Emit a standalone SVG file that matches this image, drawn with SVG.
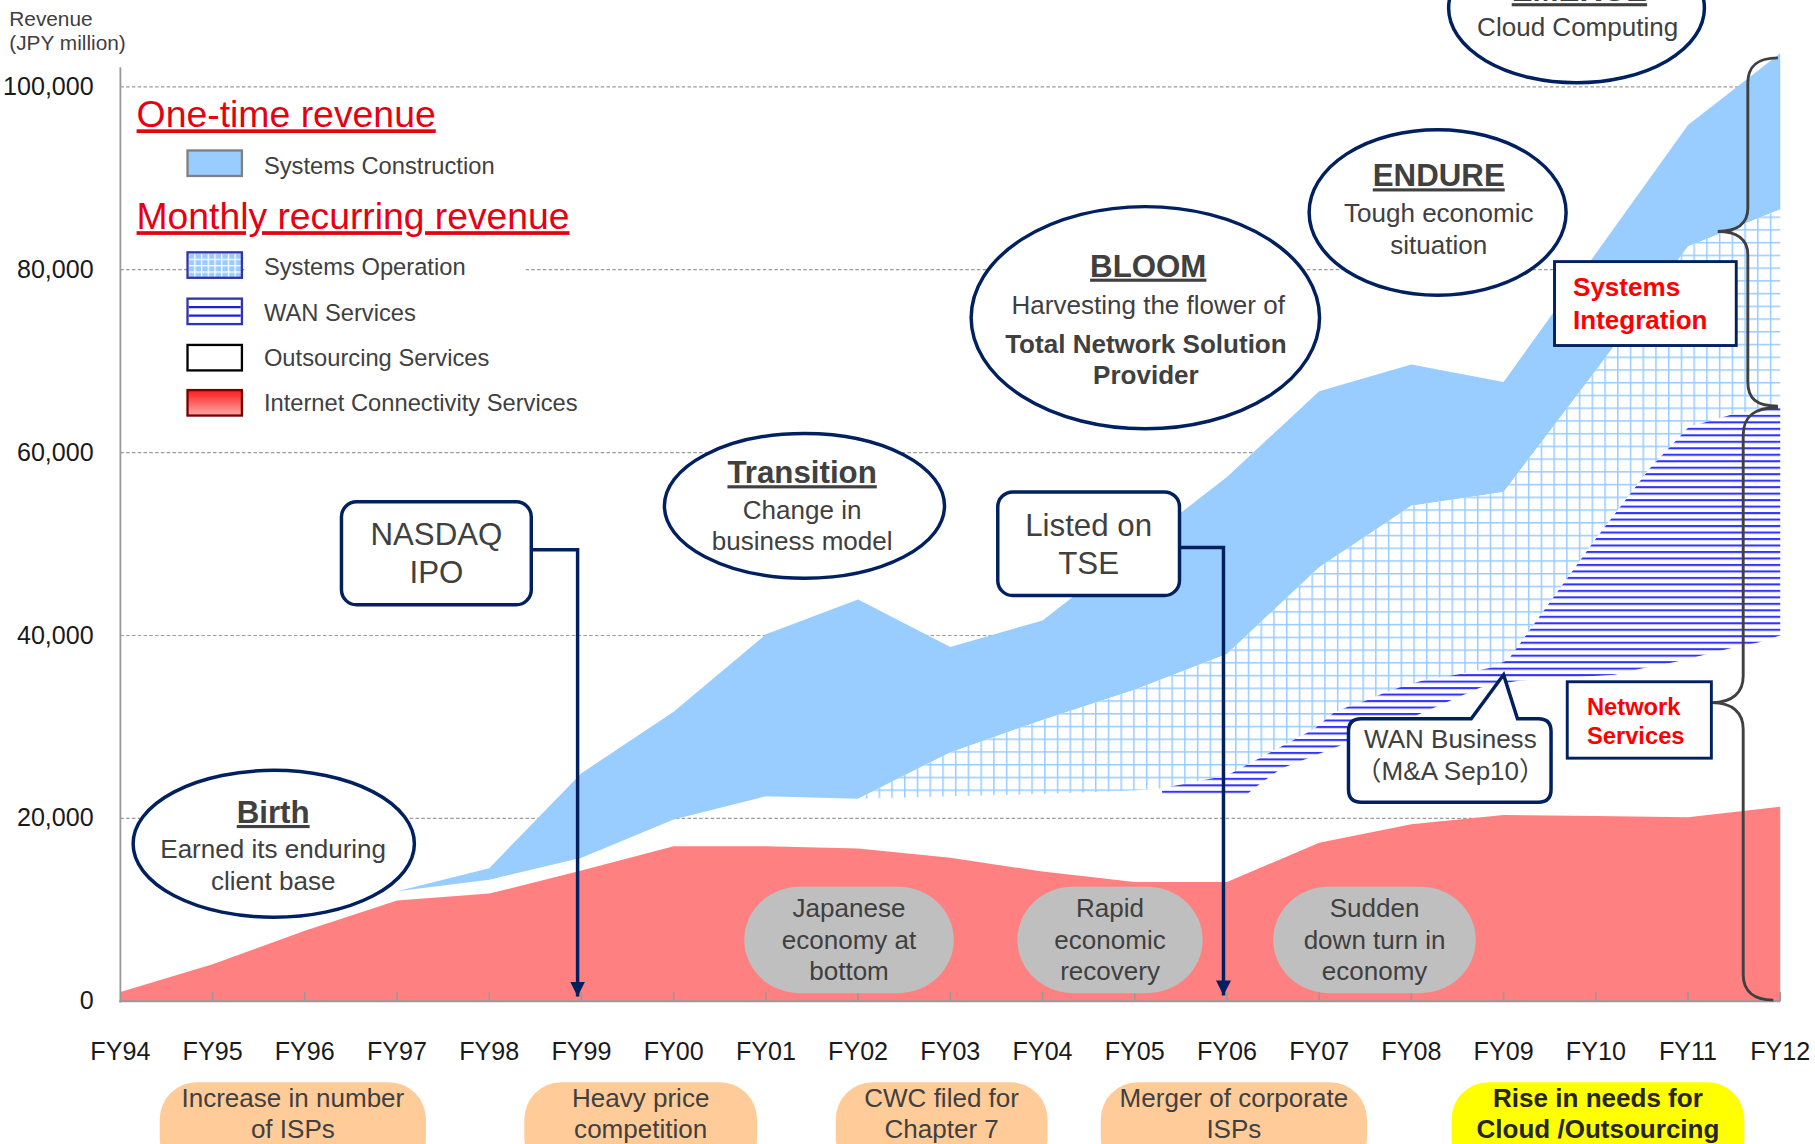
<svg xmlns="http://www.w3.org/2000/svg" width="1815" height="1144" viewBox="0 0 1815 1144">
<defs>
<style>
.t{font-family:"Liberation Sans",Arial,sans-serif;fill:#404040}
.ax{fill:#1a1a1a;font-size:21.7px}
.m{text-anchor:middle}
.e{text-anchor:end}
.b{font-weight:bold}
.u{text-decoration:underline}
.s22{font-size:22.5px}
.s27{font-size:27px}
.bub{fill:#fff;stroke:#002060;stroke-width:3}
.box{fill:#fff;stroke:#002060;stroke-width:3}
.gl{stroke:#9a9a9a;stroke-width:1;stroke-dasharray:3 2;fill:none}
.conn{fill:none;stroke:#002060;stroke-width:3}
.brace{fill:none;stroke:#404040;stroke-width:2.5}
.gray{fill:#bfbfbf}
.orange{fill:#ffcc99}
.red{fill:#ff0000}
</style>
<pattern id="opGrid" patternUnits="userSpaceOnUse" width="11" height="11">
<rect width="11" height="11" fill="#fff"/>
<rect x="0" y="0" width="1.3" height="11" fill="#99ccff"/>
<rect x="0" y="0" width="11" height="1.3" fill="#99ccff"/>
</pattern>
<pattern id="legGrid" patternUnits="userSpaceOnUse" width="5.8" height="5.5" x="162" y="218">
<rect width="5.8" height="5.5" fill="#99ccff"/>
<rect x="0" y="0" width="1.1" height="5.5" fill="#fff"/>
<rect x="0" y="0" width="5.8" height="1.1" fill="#fff"/>
</pattern>
<pattern id="wanLines" patternUnits="userSpaceOnUse" width="10" height="5.6">
<rect width="10" height="5.6" fill="#fff"/>
<rect x="0" y="0" width="10" height="1.8" fill="#3333ff"/>
</pattern>
<linearGradient id="redGrad" x1="0" y1="0" x2="0" y2="1">
<stop offset="0" stop-color="#ff1a1a"/>
<stop offset="1" stop-color="#ffaaaa"/>
</linearGradient>
<marker id="arr" viewBox="0 0 14 14" refX="14" refY="7" markerWidth="13" markerHeight="13" markerUnits="userSpaceOnUse" orient="auto">
<path d="M0,0 L14,7 L0,14 Z" fill="#002060"/>
</marker>
</defs>
<rect width="1815" height="1144" fill="#fff"/>
<g transform="scale(1.1575)">

<g id="gridlines">
<line class="gl" x1="104" y1="75" x2="1538" y2="75"/>
<line class="gl" x1="104" y1="233" x2="1538" y2="233"/>
<line class="gl" x1="104" y1="391" x2="1538" y2="391"/>
<line class="gl" x1="104" y1="549" x2="1538" y2="549"/>
<line class="gl" x1="104" y1="707" x2="1538" y2="707"/>
</g>

<g id="areas">
<path id="internet-connectivity" fill="#ff8080" d="M104,865 L104,857 L183.7,833 L263.3,804 L343,778 L422.7,772 L502.3,752 L582,731 L661.7,731 L741.3,733 L821,741 L900.7,753 L980.3,762 L1060,762 L1139.7,728 L1219.3,712 L1299,704 L1378.7,705 L1458.3,706 L1538,697 L1538,865 Z"/>
<path id="systems-construction" fill="#99ccff" d="M343,770 L422.7,750 L502.3,668 L582,615 L661.7,548 L741.3,518 L821,559 L900.7,536 L980.3,474 L1060,412 L1139.7,338 L1219.3,315 L1299,330 L1378.7,219 L1458.3,108 L1538,46 L1538,181 L1458.3,213 L1378.7,320 L1299,425 L1219.3,437 L1139.7,490 L1060,565 L980.3,596 L900.7,622 L821,650 L741.3,690 L661.7,688 L582,708 L502.3,741 L422.7,760 Z"/>
<path id="systems-operation" fill="url(#opGrid)" d="M741.3,690 L821,650 L900.7,622 L980.3,596 L1060,565 L1139.7,490 L1219.3,437 L1299,425 L1378.7,320 L1458.3,213 L1538,181 L1538,352 L1500,357 L1459,369 L1425,405 L1379,465 L1303,570 L1287,577 L1258,583 L1229,588 L1209,594 L1195,599 L1181,605 L1166,610 L1152,616 L1135,630 L1060,670 L1004,681 L980,683 L900,686 L821,688 Z"/>
<path id="wan-services" fill="url(#wanLines)" d="M1004,681 L1060,670 L1135,630 L1152,616 L1166,610 L1181,605 L1195,599 L1209,594 L1229,588 L1258,583 L1287,577 L1303,570 L1379,465 L1425,405 L1459,369 L1500,357 L1538,352 L1538,549 L1519,555 L1495,560 L1471,566 L1447,572 L1420,577 L1395,583 L1313,588 L1279,594 L1219,620 L1153,646 L1107,664 L1090,676 L1075,688 L1004,688 Z"/>
</g>

<g id="axes">
<line x1="104" y1="58" x2="104" y2="866" stroke="#999" stroke-width="1.6"/>
<line x1="103" y1="865" x2="1538" y2="865" stroke="#999" stroke-width="1.8"/>
<g stroke="#999" stroke-width="1.4">
<line x1="183.7" y1="865" x2="183.7" y2="857"/><line x1="263.3" y1="865" x2="263.3" y2="857"/><line x1="343" y1="865" x2="343" y2="857"/><line x1="422.7" y1="865" x2="422.7" y2="857"/><line x1="502.3" y1="865" x2="502.3" y2="857"/><line x1="582" y1="865" x2="582" y2="857"/><line x1="661.7" y1="865" x2="661.7" y2="857"/><line x1="741.3" y1="865" x2="741.3" y2="857"/><line x1="821" y1="865" x2="821" y2="857"/><line x1="900.7" y1="865" x2="900.7" y2="857"/><line x1="980.3" y1="865" x2="980.3" y2="857"/><line x1="1060" y1="865" x2="1060" y2="857"/><line x1="1139.7" y1="865" x2="1139.7" y2="857"/><line x1="1219.3" y1="865" x2="1219.3" y2="857"/><line x1="1299" y1="865" x2="1299" y2="857"/><line x1="1378.7" y1="865" x2="1378.7" y2="857"/><line x1="1458.3" y1="865" x2="1458.3" y2="857"/><line x1="1538" y1="865" x2="1538" y2="857"/>
</g>
<text class="t" x="8" y="22.5" style="font-size:18px">Revenue</text>
<text class="t" x="8" y="43" style="font-size:18px">(JPY million)</text>
<g class="t ax e">
<text x="81" y="82">100,000</text><text x="81" y="240">80,000</text><text x="81" y="398">60,000</text><text x="81" y="556">40,000</text><text x="81" y="714">20,000</text><text x="81" y="872">0</text>
</g>
<g class="t ax m">
<text x="104" y="916">FY94</text><text x="183.7" y="916">FY95</text><text x="263.3" y="916">FY96</text><text x="343" y="916">FY97</text><text x="422.7" y="916">FY98</text><text x="502.3" y="916">FY99</text><text x="582" y="916">FY00</text><text x="661.7" y="916">FY01</text><text x="741.3" y="916">FY02</text><text x="821" y="916">FY03</text><text x="900.7" y="916">FY04</text><text x="980.3" y="916">FY05</text><text x="1060" y="916">FY06</text><text x="1139.7" y="916">FY07</text><text x="1219.3" y="916">FY08</text><text x="1299" y="916">FY09</text><text x="1378.7" y="916">FY10</text><text x="1458.3" y="916">FY11</text><text x="1538" y="916">FY12</text>
</g>
</g>

<g id="legend">
<rect x="211" y="220" width="243" height="26" fill="#fff"/>
<text class="t u" x="118" y="110" style="font-size:32.3px;fill:#e60012">One-time revenue</text>
<rect x="162" y="130" width="47" height="22" fill="#99ccff" stroke="#808080" stroke-width="2"/>
<text class="t" x="228" y="150" style="font-size:20.5px">Systems Construction</text>
<text class="t u" x="118" y="198" style="font-size:32.2px;fill:#e60012">Monthly recurring revenue</text>
<rect x="162" y="218" width="47" height="22" fill="url(#legGrid)" stroke="#3333aa" stroke-width="2"/>
<text class="t" x="228" y="237.5" style="font-size:20.5px">Systems Operation</text>
<rect x="162" y="258" width="47" height="22" fill="#fff" stroke="#3333aa" stroke-width="2"/>
<line x1="163" y1="265.3" x2="208" y2="265.3" stroke="#1f1fd6" stroke-width="1.8"/>
<line x1="163" y1="272.7" x2="208" y2="272.7" stroke="#1f1fd6" stroke-width="1.8"/>
<text class="t" x="228" y="277.5" style="font-size:20.5px">WAN Services</text>
<rect x="162" y="298" width="47" height="22" fill="#fff" stroke="#000" stroke-width="2"/>
<text class="t" x="228" y="316.5" style="font-size:20.5px">Outsourcing Services</text>
<rect x="162" y="337" width="47" height="22" fill="url(#redGrad)" stroke="#7a0000" stroke-width="2"/>
<text class="t" x="228" y="355.5" style="font-size:20.5px">Internet Connectivity Services</text>
</g>

<g id="braces">
<path class="brace" d="M1536,50 C1517,50 1510,58 1510,72 L1510,180 C1510,193 1501,200 1484,200 C1501,200 1510,207 1510,220 L1510,330 C1510,344 1517,351 1536,351"/>
<path class="brace" d="M1536,352 C1515,352 1506,360 1506,376 L1506,584 C1506,598 1497,607 1479,607 C1497,607 1506,616 1506,630 L1506,842 C1506,856 1515,864 1532,864"/>
</g>

<g id="connectors">
<path class="conn" d="M459,475 H499 V861" marker-end="url(#arr)"/>
<path class="conn" d="M1019,473 H1057 V860" marker-end="url(#arr)"/>
</g>

<g id="birth">
<ellipse class="bub" cx="236.5" cy="729" rx="121.5" ry="63.5"/>
<text class="t m b u s27" x="236" y="711">Birth</text>
<text class="t m s22" x="236" y="741.5">Earned its enduring</text>
<text class="t m s22" x="236" y="769">client base</text>
</g>

<g id="transition">
<ellipse class="bub" cx="695" cy="437" rx="121" ry="62.5"/>
<text class="t m b u s27" x="693" y="417.5">Transition</text>
<text class="t m s22" x="693" y="448">Change in</text>
<text class="t m s22" x="693" y="475">business model</text>
</g>

<g id="bloom">
<ellipse class="bub" cx="989.5" cy="274.5" rx="150.5" ry="96"/>
<text class="t m b u s27" x="992" y="239">BLOOM</text>
<text class="t m s22" x="992" y="271">Harvesting the flower of</text>
<text class="t m b s22" x="990" y="305">Total Network Solution</text>
<text class="t m b s22" x="990" y="332">Provider</text>
</g>

<g id="endure">
<ellipse class="bub" cx="1242" cy="183.5" rx="111" ry="71.5"/>
<text class="t m b u s27" x="1243" y="161">ENDURE</text>
<text class="t m s22" x="1243" y="192">Tough economic</text>
<text class="t m s22" x="1243" y="219.5">situation</text>
</g>

<g id="emerge">
<ellipse class="bub" cx="1362" cy="7" rx="110.5" ry="64.5"/>
<text class="t m b u s27" x="1364.5" y="1">EMERGE</text>
<text class="t m s22" x="1363" y="31.5">Cloud Computing</text>
</g>

<g id="nasdaq-ipo">
<rect class="box" x="295" y="433.5" width="164" height="89" rx="13"/>
<text class="t m s27" x="377" y="471">NASDAQ</text>
<text class="t m s27" x="377" y="504">IPO</text>
</g>

<g id="listed-tse">
<rect class="box" x="862" y="425" width="157" height="89.5" rx="13"/>
<text class="t m s27" x="940.5" y="463">Listed on</text>
<text class="t m s27" x="940.5" y="496">TSE</text>
</g>

<g id="wan-business">
<path class="box" d="M1176,621 L1271,621 L1299,583 L1311,621 L1329,621 Q1340,621 1340,632 L1340,682 Q1340,693 1329,693 L1176,693 Q1165,693 1165,682 L1165,632 Q1165,621 1176,621 Z"/>
<text class="t m s22" x="1253" y="646.5">WAN Business</text>
<text class="t m s22" x="1253" y="674" style="font-family:'Liberation Sans','Noto Sans CJK JP',sans-serif">（M&amp;A Sep10）</text>
</g>

<g id="systems-integration">
<rect x="1343" y="226" width="157" height="72.5" fill="#fff" stroke="#002060" stroke-width="2.5"/>
<text class="t b red s22" x="1359" y="256">Systems</text>
<text class="t b red s22" x="1359" y="284">Integration</text>
</g>

<g id="network-services">
<rect x="1354" y="589" width="124.5" height="66" fill="#fff" stroke="#002060" stroke-width="2.5"/>
<text class="t b red" x="1371" y="617.5" style="font-size:20.5px">Network</text>
<text class="t b red" x="1371" y="642.5" style="font-size:20.5px">Services</text>
</g>

<g id="econ-japanese">
<rect class="gray" x="643" y="766" width="181" height="92" rx="48" ry="46"/>
<text class="t m s22" x="733.5" y="792">Japanese</text>
<text class="t m s22" x="733.5" y="819.5">economy at</text>
<text class="t m s22" x="733.5" y="847">bottom</text>
</g>
<g id="econ-rapid">
<rect class="gray" x="879" y="766" width="160" height="92" rx="48" ry="46"/>
<text class="t m s22" x="959" y="792">Rapid</text>
<text class="t m s22" x="959" y="819.5">economic</text>
<text class="t m s22" x="959" y="847">recovery</text>
</g>
<g id="econ-sudden">
<rect class="gray" x="1100" y="766" width="175" height="92" rx="48" ry="46"/>
<text class="t m s22" x="1187.5" y="792">Sudden</text>
<text class="t m s22" x="1187.5" y="819.5">down turn in</text>
<text class="t m s22" x="1187.5" y="847">economy</text>
</g>

<g id="event-isps">
<rect class="orange" x="138" y="935" width="230" height="80" rx="32"/>
<text class="t m s22" x="253" y="956">Increase in number</text>
<text class="t m s22" x="253" y="983">of ISPs</text>
</g>
<g id="event-price">
<rect class="orange" x="453" y="935" width="201" height="80" rx="32"/>
<text class="t m s22" x="553.5" y="956">Heavy price</text>
<text class="t m s22" x="553.5" y="983">competition</text>
</g>
<g id="event-cwc">
<rect class="orange" x="722" y="935" width="183" height="80" rx="32"/>
<text class="t m s22" x="813.5" y="956">CWC filed for</text>
<text class="t m s22" x="813.5" y="983">Chapter 7</text>
</g>
<g id="event-merger">
<rect class="orange" x="951" y="935" width="230" height="80" rx="32"/>
<text class="t m s22" x="1066" y="956">Merger of corporate</text>
<text class="t m s22" x="1066" y="983">ISPs</text>
</g>
<g id="event-cloud">
<rect x="1254" y="935" width="253" height="80" rx="32" fill="#ffff00"/>
<text class="t m b s22" x="1380.5" y="956" style="fill:#262626">Rise in needs for</text>
<text class="t m b s22" x="1380.5" y="983" style="fill:#262626">Cloud /Outsourcing</text>
</g>

</g>
</svg>
